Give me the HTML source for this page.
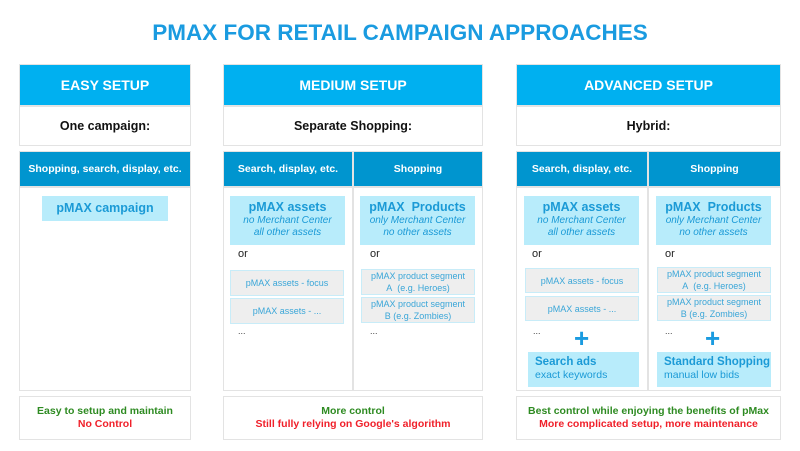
<!DOCTYPE html>
<html><head><meta charset="utf-8"><style>
*{margin:0;padding:0;box-sizing:border-box}
body{width:800px;height:451px;background:#fff;font-family:"Liberation Sans",sans-serif;position:relative;overflow:hidden}
.a{position:absolute;white-space:nowrap}
.t{left:0;width:800px;top:20px;text-align:center;font-size:22.5px;font-weight:bold;color:#1a9be0}
.h{background:#00b0f0;color:#fff;font-weight:bold;font-size:14px;display:flex;align-items:center;justify-content:center;border:1px solid #e3e3e3}
.w{background:#fff;border:1px solid #e3e3e3;display:flex;align-items:center;justify-content:center;font-weight:bold;font-size:12.5px;color:#111}
.d{background:#0095cf;color:#fff;font-weight:bold;font-size:10.5px;display:flex;align-items:center;justify-content:center;border:1px solid #e3e3e3}
.c{background:#fff;border:1px solid #e3e3e3}
.lb{background:#b8ecfb;color:#1b9ad6;text-align:center;font-size:10px;font-style:italic;line-height:12px;padding-top:4px}
.lb b{font-style:normal;font-size:12.5px;display:block;line-height:15px}
.g{background:#eeeeee;border:1px solid #c8ecf8;color:#3aa6d8;font-size:9px;text-align:center;display:flex;align-items:center;justify-content:center;line-height:12px}
.or{font-size:11px;color:#222}
.dots{font-size:9px;color:#444}
.plus{font-size:26px;font-weight:bold;color:#1a9be0;line-height:20px}
.sb{background:#b8ecfb;color:#1b9ad6;font-size:10.5px;padding:4px 0 0 7px;line-height:13px}
.sb b{font-size:11.5px;display:block}
.bt{background:#fff;border:1px solid #e3e3e3;text-align:center;font-size:10.5px;font-weight:bold;line-height:13px;padding-top:8px}
.gr{color:#2e8b22}.rd{color:#f0202a}
</style></head><body>
<div class="a t">PMAX FOR RETAIL CAMPAIGN APPROACHES</div>

<!-- Easy -->
<div class="a h" style="left:19px;top:64px;width:172px;height:42px">EASY SETUP</div>
<div class="a w" style="left:19px;top:106px;width:172px;height:40px">One campaign:</div>
<div class="a d" style="left:19px;top:151px;width:172px;height:36px">Shopping, search, display, etc.</div>
<div class="a c" style="left:19px;top:187px;width:172px;height:204px"></div>
<div class="a lb" style="left:42px;top:196px;width:126px;height:25px;padding-top:5px"><b>pMAX campaign</b></div>
<div class="a bt" style="left:19px;top:396px;width:172px;height:44px"><div class="gr">Easy to setup and maintain</div><div class="rd">No Control</div></div>

<!-- Medium -->
<div class="a h" style="left:223px;top:64px;width:260px;height:42px">MEDIUM SETUP</div>
<div class="a w" style="left:223px;top:106px;width:260px;height:40px">Separate Shopping:</div>
<div class="a d" style="left:223px;top:151px;width:130px;height:36px">Search, display, etc.</div>
<div class="a d" style="left:353px;top:151px;width:130px;height:36px">Shopping</div>
<div class="a c" style="left:223px;top:187px;width:130px;height:204px"></div>
<div class="a c" style="left:353px;top:187px;width:130px;height:204px"></div>
<div class="a lb" style="left:230px;top:196px;width:115px;height:49px"><b>pMAX assets</b>no Merchant Center<br>all other assets</div>
<div class="a lb" style="left:360px;top:196px;width:115px;height:49px"><b>pMAX&nbsp; Products</b>only Merchant Center<br>no other assets</div>
<div class="a or" style="left:238px;top:248px">or</div>
<div class="a or" style="left:370px;top:248px">or</div>
<div class="a g" style="left:230px;top:270px;width:114px;height:26px">pMAX assets - focus</div>
<div class="a g" style="left:230px;top:298px;width:114px;height:26px">pMAX assets - ...</div>
<div class="a g" style="left:361px;top:269px;width:114px;height:26px">pMAX product segment<br>A&nbsp; (e.g. Heroes)</div>
<div class="a g" style="left:361px;top:297px;width:114px;height:26px">pMAX product segment<br>B (e.g. Zombies)</div>
<div class="a dots" style="left:238px;top:326px">...</div>
<div class="a dots" style="left:370px;top:326px">...</div>
<div class="a bt" style="left:223px;top:396px;width:260px;height:44px"><div class="gr">More control</div><div class="rd">Still fully relying on Google's algorithm</div></div>

<!-- Advanced -->
<div class="a h" style="left:516px;top:64px;width:265px;height:42px">ADVANCED SETUP</div>
<div class="a w" style="left:516px;top:106px;width:265px;height:40px">Hybrid:</div>
<div class="a d" style="left:516px;top:151px;width:132px;height:36px">Search, display, etc.</div>
<div class="a d" style="left:648px;top:151px;width:133px;height:36px">Shopping</div>
<div class="a c" style="left:516px;top:187px;width:132px;height:204px"></div>
<div class="a c" style="left:648px;top:187px;width:133px;height:204px"></div>
<div class="a lb" style="left:524px;top:196px;width:115px;height:49px"><b>pMAX assets</b>no Merchant Center<br>all other assets</div>
<div class="a lb" style="left:656px;top:196px;width:115px;height:49px"><b>pMAX&nbsp; Products</b>only Merchant Center<br>no other assets</div>
<div class="a or" style="left:532px;top:248px">or</div>
<div class="a or" style="left:665px;top:248px">or</div>
<div class="a g" style="left:525px;top:268px;width:114px;height:25px">pMAX assets - focus</div>
<div class="a g" style="left:525px;top:296px;width:114px;height:25px">pMAX assets - ...</div>
<div class="a g" style="left:657px;top:267px;width:114px;height:26px">pMAX product segment<br>A&nbsp; (e.g. Heroes)</div>
<div class="a g" style="left:657px;top:295px;width:114px;height:26px">pMAX product segment<br>B (e.g. Zombies)</div>
<div class="a dots" style="left:533px;top:326px">...</div>
<div class="a dots" style="left:665px;top:326px">...</div>
<div class="a plus" style="left:574px;top:328px">+</div>
<div class="a plus" style="left:705px;top:328px">+</div>
<div class="a sb" style="left:528px;top:352px;width:111px;height:35px"><b>Search ads</b>exact keywords</div>
<div class="a sb" style="left:657px;top:352px;width:114px;height:35px"><b>Standard Shopping</b>manual low bids</div>
<div class="a bt" style="left:516px;top:396px;width:265px;height:44px"><div class="gr">Best control while enjoying the benefits of pMax</div><div class="rd">More complicated setup, more maintenance</div></div>
</body></html>
